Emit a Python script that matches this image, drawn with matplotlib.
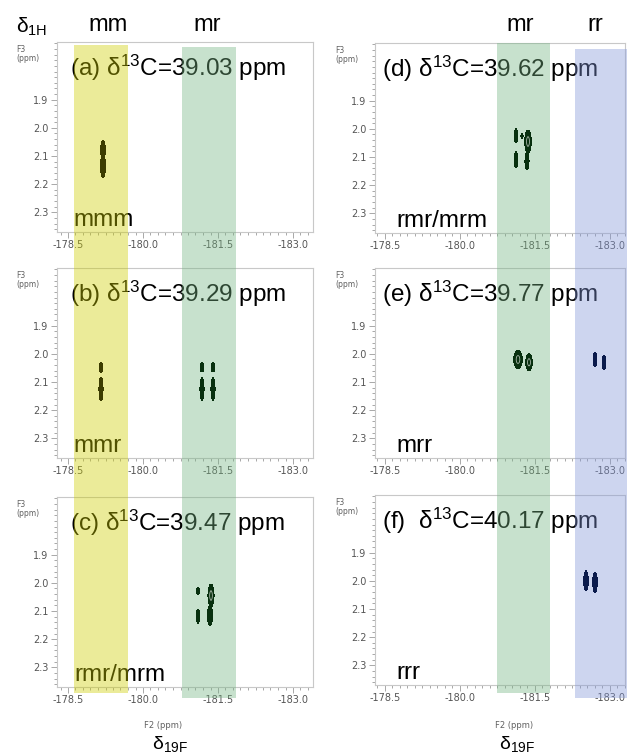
import numpy as np
import matplotlib
from matplotlib import pyplot as plt
from matplotlib.patches import Rectangle
from matplotlib.ticker import MultipleLocator, FixedLocator, FormatStrFormatter
from matplotlib.transforms import blended_transform_factory

matplotlib.use('Agg')

plt.rcParams['axes.unicode_minus'] = False
plt.rcParams['font.family'] = ['Liberation Sans', 'DejaVu Sans']
plt.rcParams['mathtext.fontset'] = 'custom'
plt.rcParams['mathtext.rm'] = 'Liberation Sans'
plt.rcParams['mathtext.it'] = 'Liberation Sans:italic'

panel_ids = ['(a)', '(b)', '(c)', '(d)', '(e)', '(f) ']
shifts_13c = ['39.03', '39.29', '39.47', '39.62', '39.77', '40.17']
pentads = ['mmm', 'mmr', 'rmr/mrm', 'rmr/mrm', 'mrr', 'rrr']
f2_ticks = [-178.5, -180.0, -181.5, -183.0]
f3_ticks = [1.9, 2.0, 2.1, 2.2, 2.3]

# cross peaks: f2 centre, f3 centre, f2 half-width, f3 half-height (ppm)
peaks_a = [(-179.2, 2.08, 0.045, 0.035), (-179.2, 2.135, 0.05, 0.04)]
peaks_b = [(-179.16, 2.048, 0.035, 0.018), (-179.16, 2.125, 0.04, 0.042),
           (-181.18, 2.048, 0.035, 0.016), (-181.4, 2.048, 0.035, 0.016),
           (-181.18, 2.125, 0.04, 0.04), (-181.4, 2.125, 0.04, 0.04)]
peaks_c = [(-181.1, 2.03, 0.03, 0.012), (-181.1, 2.118, 0.035, 0.025),
           (-181.36, 2.045, 0.06, 0.04), (-181.34, 2.115, 0.05, 0.035)]
peaks_d = [(-181.12, 2.025, 0.035, 0.025), (-181.12, 2.11, 0.035, 0.028),
           (-181.24, 2.025, 0.02, 0.01), (-181.36, 2.045, 0.065, 0.04),
           (-181.34, 2.115, 0.04, 0.03)]
peaks_e = [(-181.16, 2.02, 0.085, 0.032), (-181.38, 2.03, 0.065, 0.03),
           (-182.7, 2.02, 0.035, 0.025), (-182.88, 2.03, 0.035, 0.025)]
peaks_f = [(-182.52, 2.0, 0.045, 0.035), (-182.7, 2.005, 0.045, 0.035)]
all_peaks = [peaks_a, peaks_b, peaks_c, peaks_d, peaks_e, peaks_f]

# dyad bands: name, f2 from, f2 to
bands_left = [('mm', -178.62, -179.7), ('mr', -180.78, -181.86)]
bands_right = [('mr', -180.74, -181.8), ('rr', -182.3, -183.34)]

band_colors = {'mm': '#cdcd00', 'mr': '#75b482', 'rr': '#8296d9'}
peak_colors = {'mm': '#3c3c00', 'mr': '#08300f', 'rr': '#0b1b4c'}

W, H = 633, 754
fig = plt.figure(figsize=(W / 100, H / 100), dpi=100)

columns = [
    dict(x0=57, w=256, tops=[42, 268, 497], xlim=(-178.28, -183.4), bands=bands_left,
         band_y={'mm': (45, 693), 'mr': (47, 698)}),
    dict(x0=375, w=250, tops=[43, 268, 495], xlim=(-178.3, -183.3), bands=bands_right,
         band_y={'mr': (43, 693), 'rr': (49, 698)}),
]
ax_h = 190
gray = '#9a9a9a'

for ci, col in enumerate(columns):
    for ri in range(3):
        k = ci * 3 + ri
        top = col['tops'][ri]
        ax = fig.add_axes([col['x0'] / W, 1 - (top + ax_h) / H, col['w'] / W, ax_h / H])
        ax.set_xlim(*col['xlim'])
        ax.set_ylim(2.37, 1.695)
        for s in ax.spines.values():
            s.set_color('#c8c8c8')
            s.set_linewidth(0.8)
        ax.xaxis.set_major_locator(FixedLocator(f2_ticks))
        ax.xaxis.set_minor_locator(MultipleLocator(0.15))
        ax.yaxis.set_major_locator(FixedLocator(f3_ticks))
        ax.yaxis.set_minor_locator(MultipleLocator(0.02))
        ax.xaxis.set_major_formatter(FormatStrFormatter('%.1f'))
        ax.yaxis.set_major_formatter(FormatStrFormatter('%.1f'))
        ax.tick_params(which='both', direction='out', color=gray, width=0.6,
                       labelsize=7, labelcolor='#555555', pad=2)
        ax.tick_params(which='major', length=4)
        ax.tick_params(which='minor', length=2)
        for lab in ax.get_xticklabels() + ax.get_yticklabels():
            lab.set_family('DejaVu Sans')

        ax.text(-0.16, 0.985, 'F3\n(ppm)', transform=ax.transAxes, fontsize=5.5,
                color='#606060', family='DejaVu Sans', ha='left', va='top',
                linespacing=1.0)

        ax.text(0.05 if ci == 0 else 0.03, 0.865,
                panel_ids[k] + r' δ$^{13}$C=' + shifts_13c[k] + ' ppm',
                transform=ax.transAxes, fontsize=17.5, ha='left', va='center',
                zorder=2.4)
        ax.text(0.066 if ci == 0 else 0.084, 0.03, pentads[k], transform=ax.transAxes,
                fontsize=17.5, ha='left', va='baseline', zorder=2.4)

        # cross peaks as contoured 2D gaussians
        xs = np.linspace(col['xlim'][0], col['xlim'][1], 700)
        ys = np.linspace(1.695, 2.37, 500)
        X, Y = np.meshgrid(xs, ys)
        for (px, py, rx, ry) in all_peaks[k]:
            sx, sy = rx / 1.55, ry / 1.55
            Z = np.exp(-0.5 * ((X - px) / sx) ** 2 - 0.5 * ((Y - py) / sy) ** 2)
            c = 'black'
            for name, b0, b1 in col['bands']:
                if b1 <= px <= b0:
                    c = peak_colors[name]
            ax.contourf(X, Y, Z, levels=[0.3, 1.01], colors=[c], zorder=3)
            if rx > 0.05:
                ax.contour(X, Y, Z, levels=[0.8], colors=['#c8d2c8'],
                           linewidths=0.5, zorder=3.1)

        # band segment belonging to this panel, in figure coordinates for y
        blend = blended_transform_factory(ax.transData, fig.transFigure)
        for name, b0, b1 in col['bands']:
            y_top, y_bot = col['band_y'][name]
            seg_top = y_top if ri == 0 else top
            seg_bot = col['tops'][ri + 1] if ri < 2 else y_bot
            ax.add_patch(Rectangle((b0, 1 - seg_bot / H), b1 - b0, (seg_bot - seg_top) / H,
                                   transform=blend, facecolor=band_colors[name],
                                   alpha=0.4, lw=0, clip_on=False, zorder=2.6))

# column headers and axis names
fig.text(32 / W, 1 - 27 / H, r'δ$_{\rm 1H}$', fontsize=15, ha='center', va='center')
for name, x in [('mm', 108), ('mr', 207)]:
    fig.text(x / W, 1 - 25 / H, name, fontsize=17, ha='center', va='center')
for name, x in [('mr', 520), ('rr', 595)]:
    fig.text(x / W, 1 - 25 / H, name, fontsize=17, ha='center', va='center')
for x in [163, 514]:
    fig.text(x / W, 1 - 725 / H, 'F2 (ppm)', fontsize=6, color='#606060',
             family='DejaVu Sans', ha='center', va='center')
for x in [170, 517]:
    fig.text(x / W, 1 - 744 / H, r'δ$_{\rm 19F}$', fontsize=14, ha='center', va='center')

fig.savefig('out.png', dpi=100)
